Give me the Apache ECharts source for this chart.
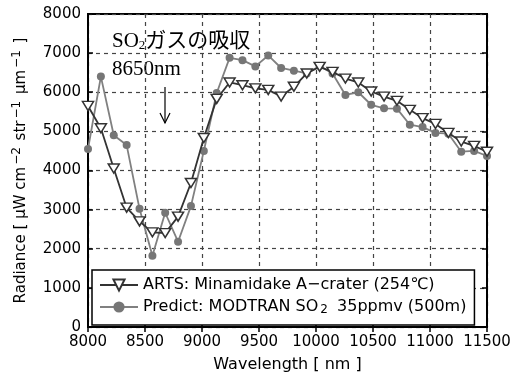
<!DOCTYPE html>
<html>
<head>
<meta charset="utf-8">
<script src="https://cdn.jsdelivr.net/npm/echarts@6/dist/echarts.min.js"></script>
<style>
  html, body { margin: 0; padding: 0; background: #fff; }
  #chart { width: 522px; height: 378px; }
</style>
</head>
<body>
<div id="chart"></div>
<script>
// wavelength samples (nm), shared by both curves
var wavelength = [8000, 8113, 8226, 8339, 8452, 8565, 8677, 8790, 8903, 9016,
  9129, 9242, 9355, 9468, 9581, 9694, 9806, 9919, 10032, 10145,
  10258, 10371, 10484, 10597, 10710, 10823, 10935, 11048, 11161, 11274,
  11387, 11500]
var artsRadiance = [5650, 5080, 4050, 3050, 2700, 2420, 2400, 2820, 3680, 4830,
  5830, 6250, 6180, 6100, 6060, 5890, 6140, 6480, 6650, 6520,
  6350, 6250, 6020, 5890, 5780, 5550, 5340, 5190, 4960, 4740,
  4630, 4480]
var modtranRadiance = [4550, 6400, 4900, 4650, 3020, 1820, 2920, 2180, 3090, 4500,
  5980, 6880, 6820, 6660, 6940, 6620, 6550, 6480, 6670, 6480,
  5930, 6000, 5680, 5590, 5580, 5170, 5110, 4960, 4940, 4480,
  4500, 4370]
var xTicks = [8000, 8500, 9000, 9500, 10000, 10500, 11000, 11500]
var yTicks = [0, 1000, 2000, 3000, 4000, 5000, 6000, 7000, 8000]
var seriesNames = ['ARTS', 'MODTRAN']
var legendLabels = {
  ARTS: '{t|ARTS: Minamidake A\u2212crater (254\u2103)}',
  MODTRAN: '{t|Predict: MODTRAN SO}{s|2}{t| 35ppmv (500m)}'
}

function pairs (xs, ys) {
  return xs.map(function (x, i) { return [x, ys[i]] })
}

var sansFont = '"DejaVu Sans", "Noto Sans CJK JP", sans-serif'
var serifFont = '"Liberation Serif", "Noto Sans CJK JP", serif'

var gridLine = { show: true, lineStyle: { color: '#444', width: 1.2, type: [4, 4] } }
var boxTick = { show: true, inside: true, length: 5, lineStyle: { color: '#000', width: 1.5 } }
var boxLine = { show: true, lineStyle: { color: '#000', width: 2 } }

var chart = echarts.init(document.getElementById('chart'))
chart.setOption({
  animation: false,
  backgroundColor: '#fff',
  grid: { left: 88, right: 35, top: 14, bottom: 47, show: true, borderColor: '#000', borderWidth: 2 },
  legend: {
    orient: 'vertical',
    left: 92,
    top: 270,
    data: seriesNames,
    formatter: function (name) { return legendLabels[name] },
    backgroundColor: '#fff',
    borderColor: '#000',
    borderWidth: 1.5,
    padding: [7, 8, 9, 7],
    itemWidth: 38,
    itemHeight: 14,
    itemGap: 5,
    textStyle: {
      fontSize: 16,
      color: '#000',
      fontFamily: sansFont,
      rich: {
        t: { fontSize: 16, color: '#000', fontFamily: sansFont, lineHeight: 19 },
        s: { fontSize: 12, color: '#000', fontFamily: sansFont, padding: [6, 4, 0, 2], lineHeight: 14 }
      }
    }
  },
  xAxis: [{
    type: 'value',
    min: xTicks[0],
    max: xTicks[xTicks.length - 1],
    interval: 500,
    name: 'Wavelength [ nm ]',
    nameLocation: 'middle',
    nameGap: 30,
    nameTextStyle: { fontSize: 16, color: '#000', fontFamily: sansFont },
    axisLine: boxLine,
    axisTick: boxTick,
    axisLabel: { fontSize: 15, color: '#000', margin: 8, fontFamily: sansFont, formatter: function (v) { return String(v) } },
    splitLine: gridLine
  }, {
    type: 'value',
    position: 'top',
    min: xTicks[0],
    max: xTicks[xTicks.length - 1],
    interval: 500,
    axisLine: boxLine,
    axisTick: boxTick,
    axisLabel: { show: false },
    splitLine: { show: false }
  }],
  yAxis: [{
    type: 'value',
    min: yTicks[0],
    max: yTicks[yTicks.length - 1],
    interval: 1000,
    name: '{t|Radiance [ \u03bcW cm}{s|\u22122}{t| str}{s|\u22121}{t| \u03bcm}{s|\u22121}{t| ]}',
    nameLocation: 'middle',
    nameGap: 54,
    nameTextStyle: {
      fontSize: 15,
      color: '#000',
      fontFamily: sansFont,
      rich: {
        t: { fontSize: 15, color: '#000', fontFamily: sansFont, lineHeight: 20 },
        s: { fontSize: 12, color: '#000', fontFamily: sansFont, padding: [0, 2, 9, 2], lineHeight: 20 }
      }
    },
    axisLine: boxLine,
    axisTick: boxTick,
    axisLabel: { fontSize: 15, color: '#000', margin: 7, fontFamily: sansFont, formatter: function (v) { return String(v) } },
    splitLine: gridLine
  }, {
    type: 'value',
    position: 'right',
    min: yTicks[0],
    max: yTicks[yTicks.length - 1],
    interval: 1000,
    axisLine: boxLine,
    axisTick: boxTick,
    axisLabel: { show: false },
    splitLine: { show: false }
  }],
  series: [{
    name: seriesNames[0],
    type: 'line',
    data: pairs(wavelength, artsRadiance),
    symbol: 'path://M0,0 L10,0 L5,9 Z',
    symbolSize: [11, 9],
    showAllSymbol: true,
    z: 3,
    lineStyle: { color: '#333', width: 1.8 },
    itemStyle: { color: '#fff', borderColor: '#333', borderWidth: 1.5 }
  }, {
    name: seriesNames[1],
    type: 'line',
    data: pairs(wavelength, modtranRadiance),
    symbol: 'circle',
    symbolSize: 8,
    showAllSymbol: true,
    z: 2,
    lineStyle: { color: '#808080', width: 1.8 },
    itemStyle: { color: '#767676', borderColor: '#767676', borderWidth: 0 }
  }],
  graphic: [{
    type: 'text',
    left: 112,
    top: 31,
    style: {
      text: '{a|SO}{b|2}{a|ガスの吸収}',
      rich: {
        a: { fontSize: 21, fontFamily: serifFont, fill: '#000' },
        b: { fontSize: 13, fontFamily: serifFont, fill: '#000', padding: [8, 0, 0, 0] }
      }
    }
  }, {
    type: 'text',
    left: 112,
    top: 59,
    style: { text: '8650nm', fontSize: 21, fontFamily: serifFont, fill: '#000' }
  }, {
    type: 'polyline',
    shape: { points: [[165, 87], [165, 123]] },
    style: { stroke: '#000', lineWidth: 1.2, fill: null }
  }, {
    type: 'polyline',
    shape: { points: [[160, 113], [165, 123], [170, 113]] },
    style: { stroke: '#000', lineWidth: 1.2, fill: null }
  }]
})
</script>
</body>
</html>
